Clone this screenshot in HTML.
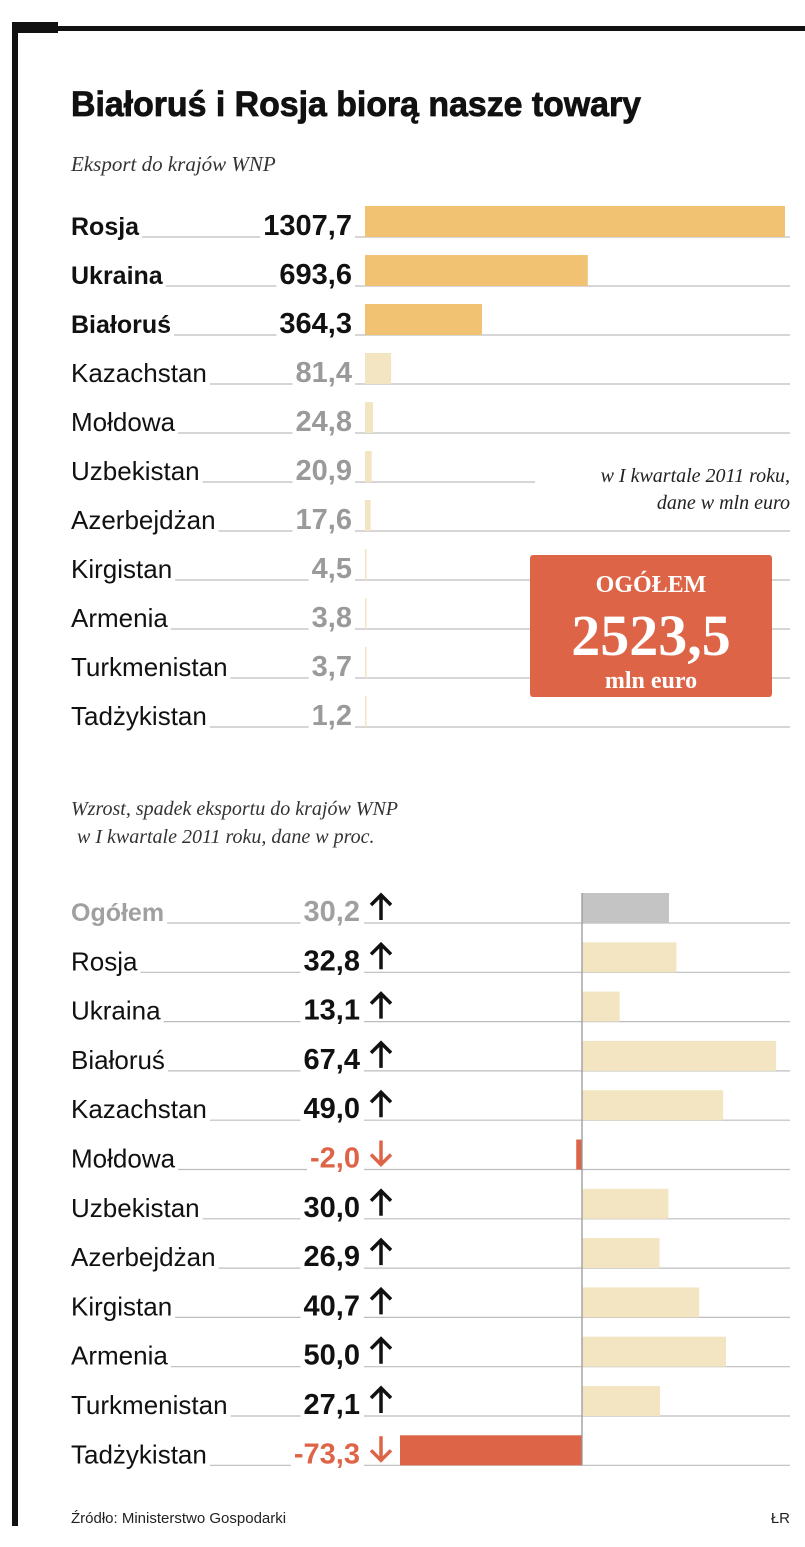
<!DOCTYPE html>
<html><head><meta charset="utf-8"><style>
html,body{margin:0;padding:0;background:#fff;width:805px;height:1547px;overflow:hidden}
svg{display:block}
text{font-family:"Liberation Sans",sans-serif}
</style></head><body>
<svg id="c" width="805" height="1547" viewBox="0 0 805 1547">
<rect x="12" y="26" width="793" height="5" fill="#111"/>
<rect x="12" y="22" width="46" height="11" fill="#111"/>
<rect x="12" y="22" width="6" height="1504" fill="#111"/>
<text x="71" y="116" font-size="35" font-weight="bold" fill="#111" stroke="#111" stroke-width="0.8" textLength="570" lengthAdjust="spacingAndGlyphs">Białoruś i Rosja biorą nasze towary</text>
<text x="71" y="171" font-size="21" font-style="italic" fill="#333" style="font-family:'Liberation Serif',serif">Eksport do krajów WNP</text>
<g id="topChart"></g><g id="botChart"></g>
<rect x="535" y="460" width="260" height="52" fill="#fff"/>
<text x="790" y="482" font-size="20" font-style="italic" fill="#222" text-anchor="end" style="font-family:'Liberation Serif',serif">w I kwartale 2011 roku,</text>
<text x="790" y="509" font-size="20" font-style="italic" fill="#222" text-anchor="end" style="font-family:'Liberation Serif',serif">dane w mln euro</text>
<g>
<rect x="530" y="555" width="242" height="142" rx="3" fill="#dd6447"/>
<text x="651" y="592" font-size="24" font-weight="bold" fill="#fff" text-anchor="middle" style="font-family:'Liberation Serif',serif">OGÓŁEM</text>
<text x="651" y="655" font-size="58" font-weight="bold" fill="#fff" text-anchor="middle" style="font-family:'Liberation Serif',serif">2523,5</text>
<text x="651" y="688" font-size="24" font-weight="bold" fill="#fff" text-anchor="middle" style="font-family:'Liberation Serif',serif">mln euro</text>
</g>
<text x="71" y="815" font-size="20" font-style="italic" fill="#333" style="font-family:'Liberation Serif',serif">Wzrost, spadek eksportu do krajów WNP</text>
<text x="77" y="843" font-size="20" font-style="italic" fill="#333" style="font-family:'Liberation Serif',serif">w I kwartale 2011 roku, dane w proc.</text>
<text x="71" y="1523" font-size="15" fill="#222">Źródło: Ministerstwo Gospodarki</text>
<text x="790" y="1523" font-size="15" fill="#222" text-anchor="end">ŁR</text>
</svg>
<script>
const exportCountries=["Rosja","Ukraina","Białoruś","Kazachstan","Mołdowa","Uzbekistan","Azerbejdżan","Kirgistan","Armenia","Turkmenistan","Tadżykistan"];
const exportValues=[1307.7,693.6,364.3,81.4,24.8,20.9,17.6,4.5,3.8,3.7,1.2];
const exportHighlight=[true,true,true,false,false,false,false,false,false,false,false];
const changeCountries=["Ogółem","Rosja","Ukraina","Białoruś","Kazachstan","Mołdowa","Uzbekistan","Azerbejdżan","Kirgistan","Armenia","Turkmenistan","Tadżykistan"];
const changeValues=[30.2,32.8,13.1,67.4,49.0,-2.0,30.0,26.9,40.7,50.0,27.1,-73.3];

const NS="http://www.w3.org/2000/svg";
function mk(tag,attrs,parent,txt){const e=document.createElementNS(NS,tag);for(const k in attrs)e.setAttribute(k,attrs[k]);if(txt!==undefined)e.textContent=txt;parent.appendChild(e);return e;}
function fmt(v){return v.toFixed(1).replace('.',',');}
const LINE="#bdbdbd";
const LABEL_FS=26, VAL_FS=29;

const topG=document.getElementById('topChart');
const xTop=v=>365+v*(420/1307.7);
const yTop=i=>237+i*49;
exportCountries.forEach((c,i)=>{
  const y=yTop(i), hl=exportHighlight[i];
  const lab=mk('text',{x:71,y:y-2,'font-size':hl?25:LABEL_FS,'font-weight':hl?'bold':'normal',fill:'#111'},topG,c);
  
  
  const val=mk('text',{x:352,y:y-2,'font-size':VAL_FS,'font-weight':'bold','text-anchor':'end',fill:hl?'#111':'#9a9a9a'},topG,fmt(exportValues[i]));
  
  
  const lw=lab.getComputedTextLength(), vw=val.getComputedTextLength();
  mk('line',{x1:71+lw+3,x2:352-vw-3,y1:y,y2:y,stroke:LINE,'stroke-width':1.2},topG);
  mk('line',{x1:355,x2:790,y1:y,y2:y,stroke:LINE,'stroke-width':1.2},topG);
  const b=mk('rect',{x:365,y:y-31,width:Math.max(1.5,xTop(exportValues[i])-365),height:31,fill:hl?'#f1c272':'#f3e5c1'},topG);
  
  
});

const botG=document.getElementById('botChart');
const x0=582, sc=2.88;
const xB=v=>Math.max(400,x0+v*sc);
const yB=i=>923+i*49.3;
changeCountries.forEach((c,i)=>{
  const y=yB(i), v=changeValues[i], neg=v<0, tot=i===0;
  const lab=mk('text',{x:71,y:y-2,'font-size':tot?25:LABEL_FS,'font-weight':tot?'bold':'normal',fill:tot?'#a0a0a0':'#111'},botG,c);
  
  
  const col=tot?'#a0a0a0':(neg?'#dd6447':'#111');
  const val=mk('text',{x:360,y:y-2,'font-size':VAL_FS,'font-weight':'bold','text-anchor':'end',fill:col},botG,fmt(v));
  
  
  const lw=lab.getComputedTextLength(), vw=val.getComputedTextLength();
  mk('line',{x1:71+lw+3,x2:360-vw-3,y1:y,y2:y,stroke:LINE,'stroke-width':1.2},botG);
  mk('line',{x1:364,x2:790,y1:y,y2:y,stroke:LINE,'stroke-width':1.2},botG);
  const ac=neg?'#dd6447':'#111';
  const ar=mk('g',{},botG);
  
  
  const ax=381;
  if(neg){
    mk('path',{d:`M${ax} ${y-29} V${y-5} M${ax-10} ${y-15} L${ax} ${y-5} L${ax+10} ${y-15}`,stroke:ac,'stroke-width':3.5,fill:'none'},ar);
  }else{
    mk('path',{d:`M${ax} ${y-3} V${y-28} M${ax-10} ${y-18} L${ax} ${y-28} L${ax+10} ${y-18}`,stroke:ac,'stroke-width':3.5,fill:'none'},ar);
  }
  const xe=xB(v);
  const b=mk('rect',{x:Math.min(x0,xe),y:y-30,width:Math.abs(xe-x0),height:30,fill:tot?'#c4c4c4':(neg?'#dd6447':'#f3e5c1')},botG);
  
  
});
const zeroAxis=mk('line',{x1:x0,x2:x0,y1:893,y2:yB(changeCountries.length-1),stroke:'#999','stroke-width':1.3},botG);


</script>
</body></html>
